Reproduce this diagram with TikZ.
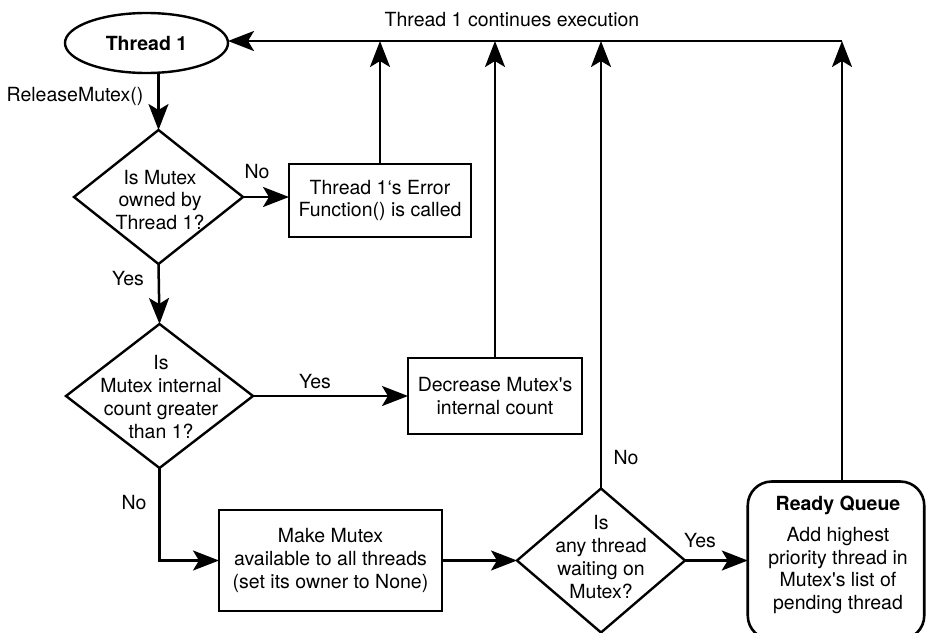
\documentclass[tikz,border=0pt]{standalone}
\usepackage{fontspec}
\setmainfont{TeX Gyre Heros}
\usetikzlibrary{shapes.geometric,arrows.meta}
\begin{document}
\begin{tikzpicture}[x=1pt,y=-1pt,
  every node/.style={inner sep=0pt, outer sep=0pt, font=\fontsize{19.5}{22.75}\selectfont},
  procbox/.style={draw, rectangle, line width=2.9pt, align=center},
  rqbox/.style={draw, rectangle, rounded corners=24pt, line width=2.6pt},
  decision/.style={draw, diamond, line width=2.4pt},
  oval/.style={draw, ellipse, line width=2.4pt},
  txt/.style={align=center},
  arr/.style={line width=2.5pt, -{Stealth[length=26pt,width=20pt,inset=6pt]}}
]
\clip (0,0) rectangle (926,632);

% nodes
\node[oval, minimum width=163pt, minimum height=60pt] (t1) at (146.5,43) {\textbf{Thread 1}};

\node[decision, minimum width=169pt, minimum height=134pt] (d1) at (158.5,197) {};
\node[txt] (d1t) at (160,200) {Is Mutex\\owned by\\Thread 1?};

\node[procbox, minimum width=182pt, minimum height=73pt] (b1) at (380,200.5) {Thread 1‘s Error\\Function() is called};

\node[decision, minimum width=187pt, minimum height=144pt] (d2) at (159.5,396) {};
\node[txt] (d2t) at (161,397) {Is\\Mutex internal\\count greater\\than 1?};

\node[procbox, minimum width=174pt, minimum height=76pt] (b2) at (495,396) {Decrease Mutex\textquotesingle s\\internal count};

\node[procbox, minimum width=223pt, minimum height=101pt] (b3) at (330.5,560.5) {Make Mutex\\available to all threads\\(set its owner to None)};

\node[decision, minimum width=168pt, minimum height=144pt] (d3) at (601,560.5) {};
\node[txt] (d3t) at (601,557) {Is\\any thread\\waiting on\\Mutex?};

\node[rqbox, minimum width=176.5pt, minimum height=158pt] (rq) at (836,560.5) {};
\node[txt] (rqt) at (838,555) {\textbf{Ready Queue}\\[8pt]Add highest\\priority thread in\\Mutex\textquotesingle s list of\\pending thread};

% labels
\node (lcont) at (512,20) {Thread 1 continues execution};
\node (lrel) at (75,96) {ReleaseMutex()};
\node (lno1) at (257,172) {No};
\node (lyes1) at (128,279) {Yes};
\node (lyes2) at (315,382) {Yes};
\node (lno2) at (134,503) {No};
\node (lno3) at (626,458) {No};
\node (lyes3) at (700,541) {Yes};

\coordinate (tr) at (842,41);

% connectors
\draw[arr] (tr) -- (tr -| t1.east);
\draw[arr] (d1.north |- t1.south) -- (d1.north);
\draw[arr] (d1.east) -- (d1.east -| b1.west);
\draw[arr] (b1.north) -- (b1.north |- tr);
\draw[arr] (d1.south) -- (d2.north);
\draw[arr] (d2.east) -- (d2.east -| b2.west);
\draw[arr] (b2.north) -- (b2.north |- tr);
\draw[arr] (d2.south) |- (b3.west);
\draw[arr] (b3.east) -- (d3.west);
\draw[arr] (d3.north) -- (d3.north |- tr);
\draw[arr] (d3.east) -- (rq.west);
\draw[arr] (rq.north -| tr) -- (tr);
\end{tikzpicture}
\end{document}
